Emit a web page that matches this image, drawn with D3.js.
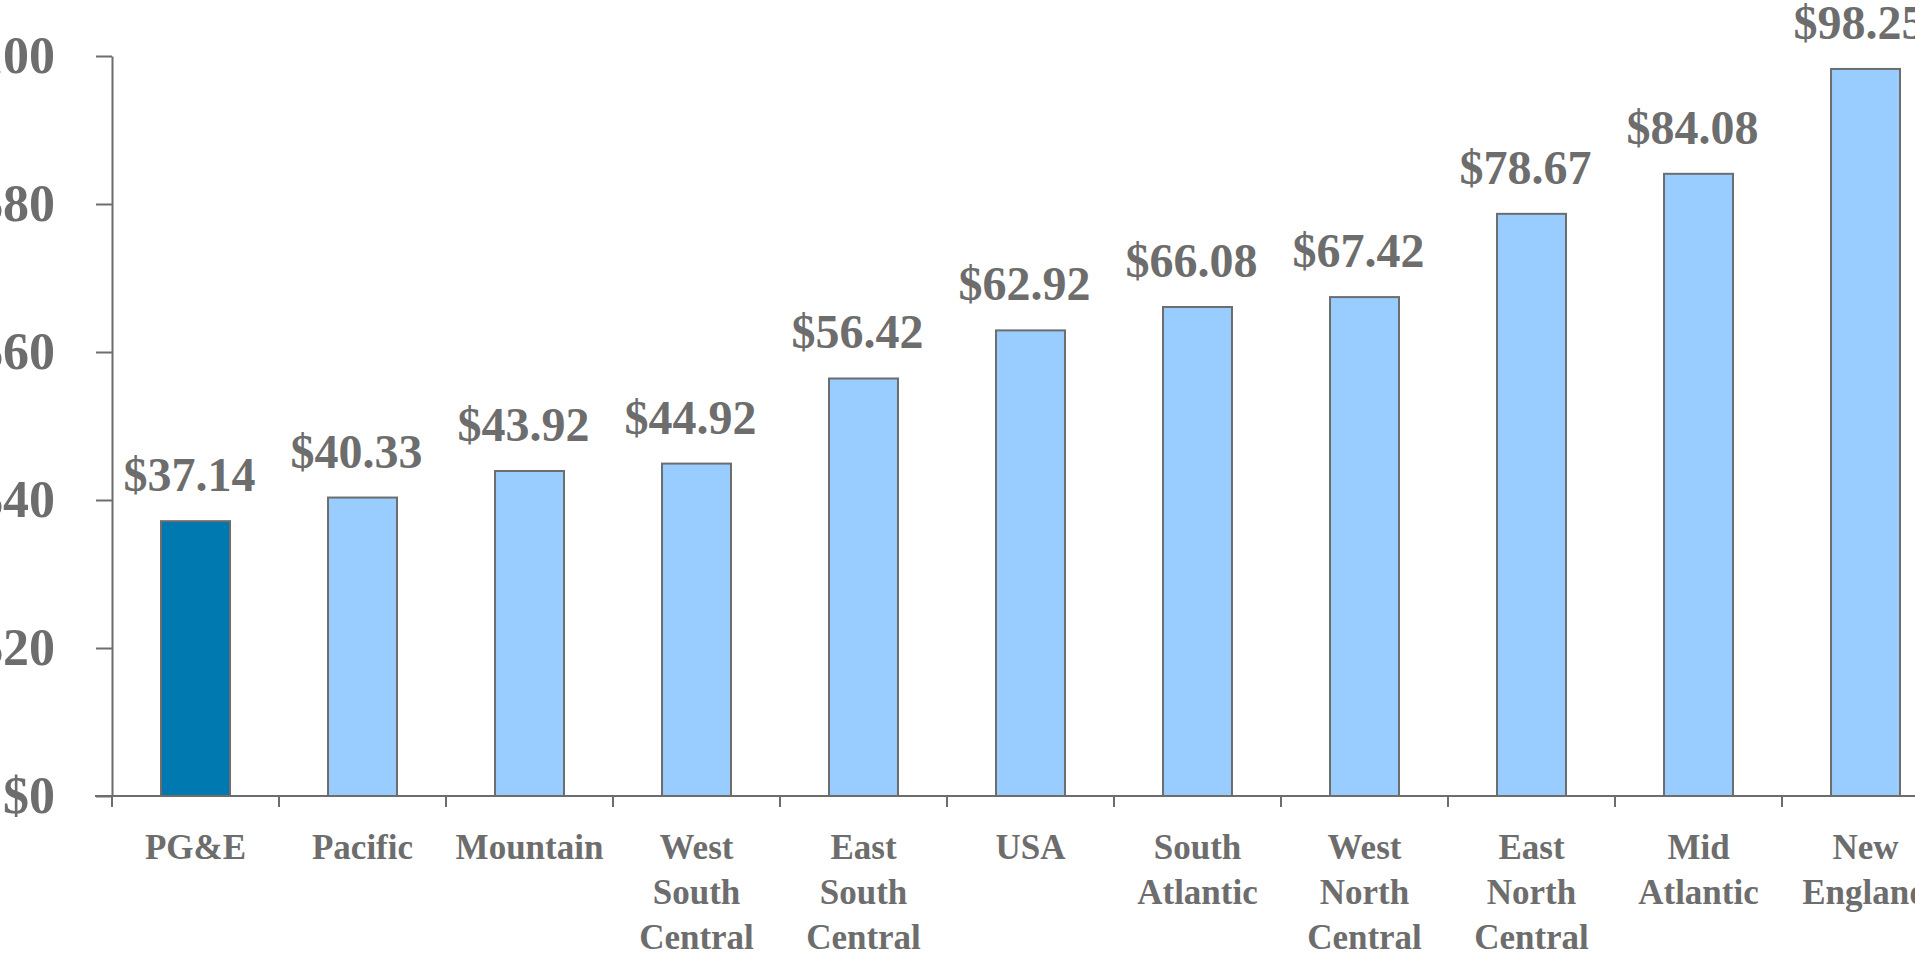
<!DOCTYPE html>
<html>
<head>
<meta charset="utf-8">
<script src="https://cdn.jsdelivr.net/npm/d3@7"></script>
<style>
  html, body { margin: 0; padding: 0; background: #fff; overflow: hidden; }
  svg { display: block; font-family: "Liberation Serif", "Times New Roman", serif; font-weight: bold; }
</style>
</head>
<body>
<div id="draw_zone"></div>
<script>
// regions and average monthly bill
var categories = ["PG&E", "Pacific", "Mountain", "West South Central", "East South Central", "USA",
  "South Atlantic", "West North Central", "East North Central", "Mid Atlantic", "New England"];
var labelLines = [["PG&E"], ["Pacific"], ["Mountain"], ["West", "South", "Central"], ["East", "South", "Central"],
  ["USA"], ["South", "Atlantic"], ["West", "North", "Central"], ["East", "North", "Central"], ["Mid", "Atlantic"], ["New", "England"]];
var values = [37.14, 40.33, 43.92, 44.92, 56.42, 62.92, 66.08, 67.42, 78.67, 84.08, 98.25];
var yTicks = [0, 20, 40, 60, 80, 100];

var grey = "#6d6d6d";
var holder = d3.select("#draw_zone").append("svg").attr("width", 1915).attr("height", 953);

var x = d3.scaleBand().domain(categories).range([112, 112 + 167 * categories.length]).paddingInner(0.587).paddingOuter(0.2935);
var y = d3.scaleLinear().domain([0, 100]).range([796, 56]);

// y axis
var yAxis = holder.append("g").attr("transform", "translate(112,0)")
  .call(d3.axisLeft(y).tickValues(yTicks).tickSize(16).tickSizeOuter(0).tickPadding(41).tickFormat(function(d) { return "$" + d; }));
yAxis.select(".domain").attr("stroke", grey).attr("stroke-width", 2);
yAxis.selectAll(".tick line").attr("stroke", grey).attr("stroke-width", 2);
yAxis.selectAll(".tick text").attr("fill", grey).style("font-size", "52px").style("font-family", "Liberation Serif").style("font-weight", "bold");

// bars
holder.selectAll("rect.bar").data(values).enter().append("rect")
  .attr("class", "bar")
  .attr("x", function(d, i) { return x(categories[i]); })
  .attr("y", function(d) { return y(d); })
  .attr("width", x.bandwidth())
  .attr("height", function(d) { return y(0) - y(d); })
  .style("fill", function(d, i) { return i === 0 ? "#0078b0" : "#99ccff"; })
  .style("stroke", grey).style("stroke-width", 2);

// x axis line and ticks at band edges
holder.append("line").attr("x1", 95).attr("x2", 1915).attr("y1", y(0)).attr("y2", y(0))
  .style("stroke", grey).style("stroke-width", 2);
holder.selectAll("line.xtick").data(categories).enter().append("line")
  .attr("class", "xtick")
  .attr("x1", function(d) { return x(d) - x.step() * x.paddingOuter(); })
  .attr("x2", function(d) { return x(d) - x.step() * x.paddingOuter(); })
  .attr("y1", y(0)).attr("y2", y(0) + 11)
  .style("stroke", grey).style("stroke-width", 2);

// value labels (sit a touch left of bar centre, like the original)
holder.selectAll("text.val").data(values).enter().append("text")
  .attr("class", "val")
  .attr("x", function(d, i) { return x(categories[i]) + x.bandwidth() / 2 - 6; })
  .attr("y", function(d) { return y(d) - 30; })
  .attr("text-anchor", "middle").attr("fill", grey).style("font-size", "48px")
  .text(function(d) { return "$" + d.toFixed(2); });

// category labels
var cat = holder.selectAll("text.cat").data(categories).enter().append("text")
  .attr("class", "cat")
  .attr("text-anchor", "middle").attr("fill", grey).style("font-size", "35px");
cat.each(function(d, i) {
  var t = d3.select(this);
  labelLines[i].forEach(function(line, j) {
    t.append("tspan").attr("x", x(d) + x.bandwidth() / 2).attr("y", 859 + j * 45).text(line);
  });
});
</script>
</body>
</html>
